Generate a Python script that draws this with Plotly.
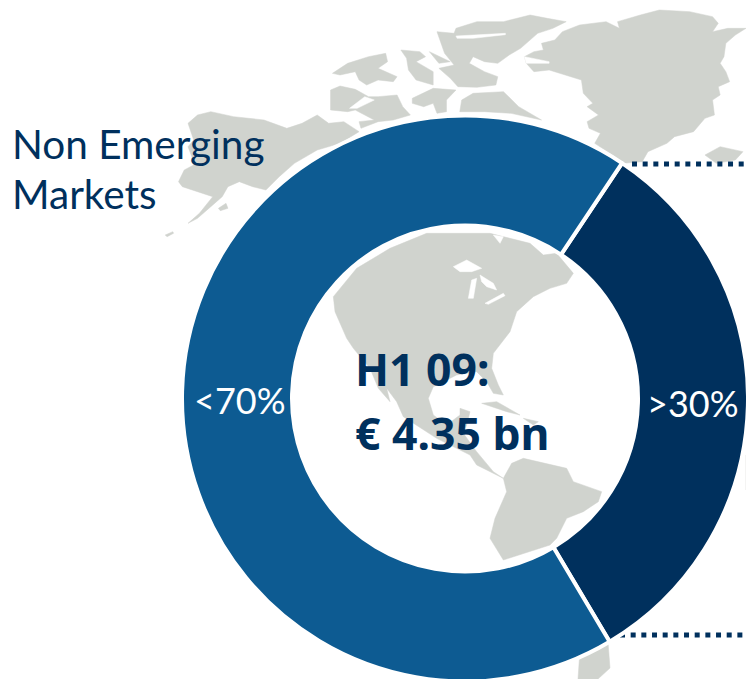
import plotly.graph_objects as go

# ---- data ----
segments = ["Emerging Markets", "Non Emerging Markets"]
shares = [32.1, 67.9]
share_labels = [">30%", "<70%"]
segment_colors = ["#00305d", "#0d5b92"]
side_lines = ["Non Emerging", "Markets"]
centre_line_1 = "H1 09:"
centre_line_2 = "€ 4.35 bn"

W, H = 760, 700
NAVY = "#00305d"
LAND = "#d0d3ce"

north = [
    [(985,170),(1010,155),(1035,150),(1030,130),(1065,120),(1085,95),(1130,75),(1170,70),(1200,65),(1235,85),(1230,65),(1290,45),(1340,30),(1420,35),(1480,50),(1495,70),(1480,95),(1520,85),(1568,85),(1540,105),(1515,130),(1510,170),(1500,190),(1515,215),(1525,245),(1495,260),(1500,285),(1480,300),(1485,345),(1460,355),(1430,395),(1380,410),(1360,430),(1310,455),(1295,485),(1245,490),(1210,460),(1170,430),(1185,400),(1155,385),(1150,365),(1180,345),(1150,320),(1165,310),(1140,280),(1135,240),(1095,225),(1050,210),(1010,215),(990,190)],
    [(755,95),(800,100),(805,85),(860,65),(930,65),(1000,45),(1045,55),(1095,65),(1060,85),(1020,100),(975,145),(945,165),(915,190),(880,185),(850,170),(840,190),(880,215),(915,230),(910,255),(860,262),(810,260),(790,235),(760,205),(800,195),(775,160),(765,125)],
    [(475,270),(500,258),(540,268),(575,290),(600,290),(650,285),(665,320),(685,345),(640,360),(600,365),(555,385),(550,365),(590,360),(540,330),(520,335),(475,330)],
    [(480,220),(520,190),(575,170),(620,160),(625,185),(600,205),(650,230),(640,245),(600,240),(570,255),(550,240),(540,215),(500,225)],
    [(660,150),(710,155),(725,170),(700,185),(745,215),(745,255),(700,240),(680,210),(675,175)],
    [(690,295),(745,265),(805,270),(780,300),(780,335),(755,340),(745,310),(720,320),(690,310)],
    [(735,155),(790,185),(760,190)],
    [(820,300),(850,280),(930,275),(970,320),(1030,360),(990,350),(950,340),(880,335),(815,335)],
    [(75,545),(90,510),(115,495),(110,470),(100,440),(115,420),(100,370),(125,345),(160,335),(220,350),(300,360),(360,385),(400,370),(440,345),(470,370),(510,365),(550,395),(500,430),(440,450),(380,490),(340,530),(305,570),(270,560),(235,545),(205,560),(190,590),(160,620),(125,655),(100,670),(130,640),(165,590),(115,570),(85,560)],
    [(1460,465),(1500,440),(1560,455),(1540,480),(1490,490)],
    [(40,705),(60,695),(62,700),(45,710)],
    [(180,625),(200,610),(205,625),(185,632)],
]
north_gaps = [
    [(805,108),(935,100),(935,104),(850,115),(808,115)],
    [(525,325),(565,290),(590,300),(545,325)],
    [(985,170),(1050,185),(1050,190),(990,190)],
]
americas = [
    [(130,215),(200,130),(300,70),(410,25),(600,25),(720,55),(760,90),(800,85),(850,145),(830,175),(780,190),(730,215),(680,260),(660,320),(610,385),(605,430),(625,480),(640,510),(610,505),(590,470),(560,440),(500,450),(430,485),(415,520),(430,570),(470,600),(510,570),(510,550),(540,560),(530,600),(520,625),(560,680),(610,740),(640,760),(560,720),(540,690),(440,640),(340,575),(320,530),(290,490),(300,530),(265,490),(240,430),(190,370),(170,340),(135,260)],
    [(640,760),(665,715),(700,700),(770,715),(830,730),(850,770),(935,800),(925,830),(880,860),(830,880),(800,940),(780,960),(640,1005),(600,940),(615,880),(650,800)],
    [(575,535),(620,530),(690,570),(650,560)],
    [(700,580),(745,590),(730,600)],
]
lakes = [
    [(490,125),(530,105),(575,130),(545,140),(510,140)],
    [(535,220),(545,165),(560,160),(550,220)],
    [(570,150),(610,175),(620,195),(590,185),(575,170)],
    [(585,235),(640,205),(645,212),(595,238)],
    [(610,30),(640,35),(630,55)],
]
fringe = [
    [(608,642),(610,668),(598,679),(578,679),(580,650)],
    [(746,455),(760,450),(760,495),(746,490)],
]

fig = go.Figure()

def add_poly(points, color):
    xs = [p[0] for p in points] + [points[0][0]]
    ys = [p[1] for p in points] + [points[0][1]]
    fig.add_trace(go.Scatter(x=xs, y=ys, mode="lines", fill="toself", fillcolor=color,
                             line=dict(color=color, width=0.5), hoverinfo="skip", showlegend=False))

def north_px(poly):
    return [(150 + x * 596 / 1568, y / 3) for x, y in poly]

def americas_px(poly):
    return [(290 + x / 3, 225 + y / 3) for x, y in poly]

for poly in north:
    add_poly(north_px(poly), LAND)
for poly in north_gaps:
    add_poly(north_px(poly), "#ffffff")
for poly in americas:
    add_poly(americas_px(poly), LAND)
for poly in lakes:
    add_poly(americas_px(poly), "#ffffff")
for poly in fringe:
    add_poly(poly, LAND)

# dotted leader lines
for lx, ly in [((632, 760), (164, 164)), ((620, 760), (635, 635))]:
    fig.add_trace(go.Scatter(x=list(lx), y=list(ly), mode="lines", hoverinfo="skip", showlegend=False,
                             line=dict(color=NAVY, width=5, dash="5px 5.67px")))

cx, cy, r = 465, 398.5, 283
fig.add_trace(go.Pie(
    labels=segments, values=shares, textinfo="none",
    marker=dict(colors=segment_colors, line=dict(color="#ffffff", width=4)),
    hole=173 / 283, sort=False, direction="clockwise", rotation=33.7,
    domain=dict(x=[(cx - r) / W, (cx + r) / W], y=[1 - (cy + r) / H, 1 - (cy - r) / H]),
    showlegend=False,
))

def note(x, y, text, family, size, color=NAVY, anchor="left"):
    fig.add_annotation(x=x, y=y, xref="x", yref="y", text=text, showarrow=False, xanchor=anchor,
                       yanchor="middle", font=dict(family=family, size=size, color=color))

note(10, 143, side_lines[0], "Lato", 40.5)
note(10, 193, side_lines[1], "Lato", 40.5)
note(240, 400, share_labels[1], "Lato", 36, "#ffffff", "center")
note(693, 403, share_labels[0], "Lato", 36, "#ffffff", "center")
note(353, 368, f"<b>{centre_line_1}</b>", "Noto Sans", 44.5)
note(353, 432, f"<b>{centre_line_2}</b>", "Noto Sans", 44.5)

fig.update_layout(
    width=W, height=H, autosize=False, margin=dict(l=0, r=0, t=0, b=0),
    paper_bgcolor="#ffffff", plot_bgcolor="#ffffff",
    xaxis=dict(range=[0, W], visible=False, fixedrange=True),
    yaxis=dict(range=[H, 0], visible=False, fixedrange=True),
)
fig.write_html("out.html", config={"displayModeBar": False},
               post_script="document.body.style.margin='0';document.body.style.overflow='hidden';document.documentElement.style.overflow='hidden';")
